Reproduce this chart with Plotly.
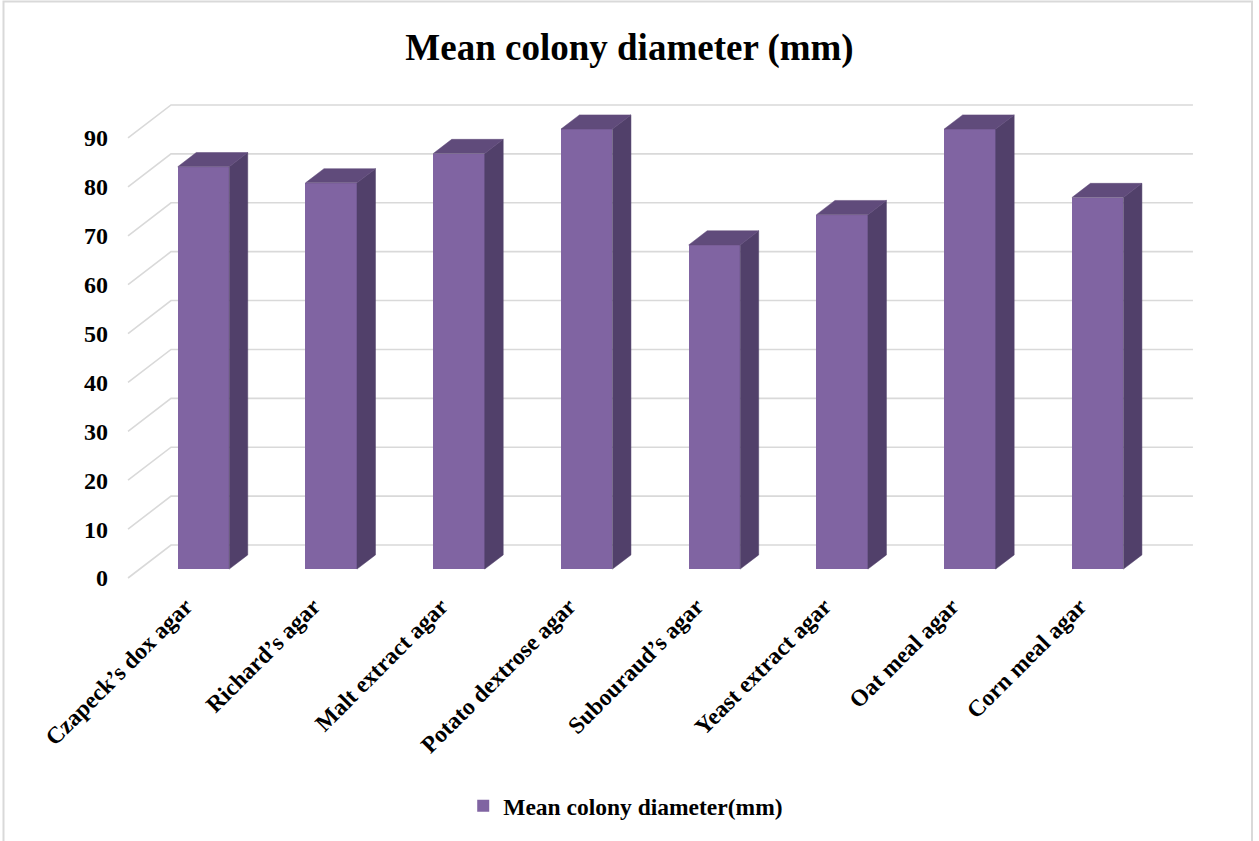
import plotly.graph_objects as go

# Culture media and mean colony diameter (mm)
categories = [
    "Czapeck’s dox agar",
    "Richard’s agar",
    "Malt extract agar",
    "Potato dextrose agar",
    "Subouraud’s agar",
    "Yeast extract agar",
    "Oat meal agar",
    "Corn meal agar",
]
diameters = [82.3, 79.0, 85.0, 90.0, 66.3, 72.5, 90.0, 76.0]
y_ticks = [0, 10, 20, 30, 40, 50, 60, 70, 80, 90]
series_name = "Mean colony diameter(mm)"
chart_title = "Mean colony diameter (mm)"

# ---- page geometry (pixels) ----
W, H = 1259, 841
PLOT_L, PLOT_R, PLOT_T, PLOT_B = 127, 1200, 80, 587
PX_PER_CAT = 127.74          # horizontal pixels per category step
PX_PER_UNIT = 4.889          # vertical pixels per value unit
ZERO_PX = 578                # pixel row of value 0 on the front plane

# oblique depth: a full floor depth shifts right by 43 px and up by 33 px
DX = 43 / PX_PER_CAT
DY = 33 / PX_PER_UNIT
BAR_FRONT, BAR_BACK = 0.27, 0.70
BAR_HALF = 25.75 / PX_PER_CAT
LABEL_SHIFT = -0.05          # category-label anchor relative to the column

FRONT_COL = "#8064A2"
SIDE_COL = "#51406A"
TOP_COL = "#604B7B"
GRID_COL = "#D9D9D9"
FONT = "Liberation Serif"

n = len(categories)
x_lo = -0.5 - 0.008
x_hi = x_lo + (PLOT_R - PLOT_L) / PX_PER_CAT
y_lo = -(PLOT_B - ZERO_PX) / PX_PER_UNIT
y_hi = (ZERO_PX - PLOT_T) / PX_PER_UNIT


def proj(x, y, d):
    """Project a point at depth d (0 = front, 1 = back wall) onto the page."""
    return x + d * DX, y + d * DY


fig = go.Figure()

# front faces of the columns
front_x = [i + BAR_FRONT * DX for i in range(n)]
fig.add_trace(go.Bar(
    x=front_x,
    y=diameters,
    base=[BAR_FRONT * DY] * n,
    width=2 * BAR_HALF,
    marker=dict(color=FRONT_COL, line=dict(width=0)),
    name=series_name,
    showlegend=True,
    hoverinfo="skip",
))

# side and top faces
side_x, side_y, top_x, top_y = [], [], [], []
for i, v in enumerate(diameters):
    xl = i - BAR_HALF
    xr = i + BAR_HALF
    p_rb = proj(xr, 0, BAR_FRONT)
    p_rt = proj(xr, v, BAR_FRONT)
    p_lt = proj(xl, v, BAR_FRONT)
    q_rb = proj(xr, 0, BAR_BACK)
    q_rt = proj(xr, v, BAR_BACK)
    q_lt = proj(xl, v, BAR_BACK)
    for p in (p_rb, q_rb, q_rt, p_rt, p_rb):
        side_x.append(p[0]); side_y.append(p[1])
    side_x.append(None); side_y.append(None)
    for p in (p_lt, p_rt, q_rt, q_lt, p_lt):
        top_x.append(p[0]); top_y.append(p[1])
    top_x.append(None); top_y.append(None)

fig.add_trace(go.Scatter(x=side_x, y=side_y, mode="lines", fill="toself",
                         fillcolor=SIDE_COL, line=dict(width=0.5, color=SIDE_COL),
                         showlegend=False, hoverinfo="skip"))
fig.add_trace(go.Scatter(x=top_x, y=top_y, mode="lines", fill="toself",
                         fillcolor=TOP_COL, line=dict(width=0.5, color=TOP_COL),
                         showlegend=False, hoverinfo="skip"))

# gridlines: slanted on the side wall, horizontal on the back wall
shapes = []
for v in y_ticks:
    a = proj(-0.5, v, 0)
    b = proj(-0.5, v, 1)
    c = proj(n - 0.5, v, 1)
    shapes.append(dict(
        type="path", xref="x", yref="y", layer="below",
        path=f"M {a[0]},{a[1]} L {b[0]},{b[1]} L {c[0]},{c[1]}",
        line=dict(color=GRID_COL, width=1.6),
    ))

# chart border
pw = W - PLOT_L - (W - PLOT_R)
ph = H - PLOT_T - (H - PLOT_B)


def to_paper(px, py):
    return (px - PLOT_L) / pw, (PLOT_B - py) / ph


bx0, by0 = to_paper(3.5, 1.5)
bx1, by1 = to_paper(1252, H + 4)
shapes.append(dict(type="rect", xref="paper", yref="paper",
                   x0=bx0, y0=by1, x1=bx1, y1=by0,
                   line=dict(color=GRID_COL, width=2), fillcolor="rgba(0,0,0,0)"))

fig.update_layout(
    width=W, height=H, autosize=False,
    margin=dict(l=PLOT_L, r=W - PLOT_R, t=PLOT_T, b=H - PLOT_B, pad=0),
    paper_bgcolor="white", plot_bgcolor="white",
    font=dict(family=FONT, color="black", size=24, weight="bold"),
    title=dict(text=chart_title, x=0.5, xanchor="center", xref="container",
               y=1 - 47 / H, yanchor="middle", yref="container",
               font=dict(family=FONT, size=37, color="black", weight="bold")),
    xaxis=dict(range=[x_lo, x_hi], showgrid=False, zeroline=False, showline=False,
               tickmode="array", tickvals=[i + LABEL_SHIFT for i in range(n)],
               ticktext=categories, tickangle=-45, ticks="",
               tickfont=dict(family=FONT, size=23.5, color="black", weight="bold")),
    yaxis=dict(range=[y_lo, y_hi], showgrid=False, zeroline=False, showline=False,
               tickmode="array", tickvals=y_ticks, ticks="", ticklabelstandoff=18,
               tickfont=dict(family=FONT, size=24, color="black", weight="bold")),
    legend=dict(orientation="h", x=0.497, xanchor="center", xref="container",
                y=1 - 806 / H, yanchor="middle", yref="container",
                font=dict(family=FONT, size=23.5, color="black", weight="bold")),
    shapes=shapes,
    bargap=0,
)

fig.write_html("out.html")
